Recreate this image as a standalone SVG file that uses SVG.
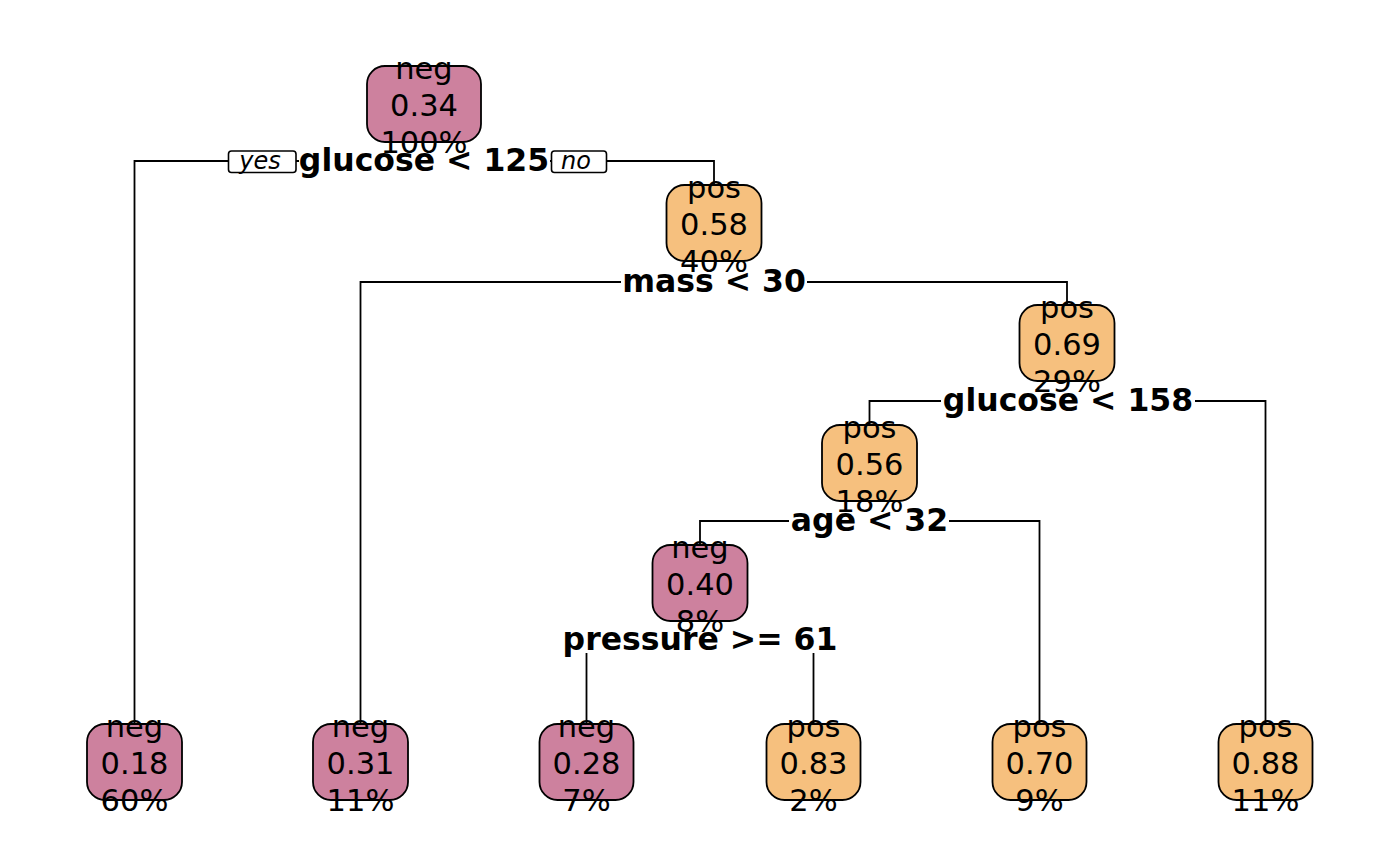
<svg xmlns="http://www.w3.org/2000/svg" width="1400" height="866" viewBox="0 0 1400 866">
<style>
.bg{fill:#ffffff}
.conn{fill:none;stroke:#000;stroke-width:1.8}
.neg{fill:#CD819E;stroke:#000;stroke-width:1.8}
.pos{fill:#F6C07E;stroke:#000;stroke-width:1.8}
.nt{font-family:"DejaVu Sans",sans-serif;font-size:30.5px;text-anchor:middle;fill:#000}
.lab{font-family:"DejaVu Sans",sans-serif;font-size:31.5px;font-weight:bold;text-anchor:middle;fill:#000}
.lbg{fill:#fff;stroke:none}
.yn{fill:#fff;stroke:#000;stroke-width:1.6}
.ynt{font-family:"DejaVu Sans",sans-serif;font-size:24px;font-style:italic;text-anchor:middle;fill:#000}
</style>
<rect class="bg" x="0" y="0" width="1400" height="866"/>
<g id="connectors">
<path class="conn" d="M134.5,724 V161 H714 V185"/>
<path class="conn" d="M360.5,724 V282 H1067 V305"/>
<path class="conn" d="M869.5,425 V401 H1265.5 V724"/>
<path class="conn" d="M700,545 V521 H1039.5 V724"/>
<path class="conn" d="M586.5,724 V640 H813.5 V724"/>
</g>
<g id="split-labels">
<rect class="lbg" x="299" y="149" width="251" height="24"/>
<text class="lab" x="424" y="171">glucose &lt; 125</text>
<rect class="lbg" x="621" y="270" width="186" height="24"/>
<text class="lab" x="714" y="292">mass &lt; 30</text>
<rect class="lbg" x="941" y="389" width="254" height="24"/>
<text class="lab" x="1068" y="411">glucose &lt; 158</text>
<rect class="lbg" x="789" y="509" width="160" height="24"/>
<text class="lab" x="869.5" y="531">age &lt; 32</text>
<rect class="lbg" x="558" y="627" width="284" height="26"/>
<text class="lab" x="700" y="650">pressure &gt;= 61</text>
</g>
<g id="yes-label">
<rect class="yn" x="228.5" y="151" width="67.5" height="21.5" rx="3"/>
<text class="ynt" x="260" y="169">yes</text>
</g>
<g id="no-label">
<rect class="yn" x="551.5" y="151" width="55" height="21.5" rx="3"/>
<text class="ynt" x="576" y="169">no</text>
</g>
<g id="node1">
<rect class="neg" x="367" y="66" width="114" height="76" rx="18"/>
<text class="nt" x="424" y="79">neg</text>
<text class="nt" x="424" y="116">0.34</text>
<text class="nt" x="424" y="153">100%</text>
</g>
<g id="node2">
<rect class="pos" x="666.5" y="185" width="95" height="76" rx="18"/>
<text class="nt" x="714" y="198">pos</text>
<text class="nt" x="714" y="235">0.58</text>
<text class="nt" x="714" y="272">40%</text>
</g>
<g id="node3">
<rect class="pos" x="1019.5" y="305" width="95" height="76" rx="18"/>
<text class="nt" x="1067" y="318">pos</text>
<text class="nt" x="1067" y="355">0.69</text>
<text class="nt" x="1067" y="392">29%</text>
</g>
<g id="node4">
<rect class="pos" x="822" y="425" width="95" height="76" rx="18"/>
<text class="nt" x="869.5" y="438">pos</text>
<text class="nt" x="869.5" y="475">0.56</text>
<text class="nt" x="869.5" y="512">18%</text>
</g>
<g id="node5">
<rect class="neg" x="652.5" y="545" width="95" height="76" rx="18"/>
<text class="nt" x="700" y="558">neg</text>
<text class="nt" x="700" y="595">0.40</text>
<text class="nt" x="700" y="632">8%</text>
</g>
<g id="leaf1">
<rect class="neg" x="87" y="724" width="95" height="76" rx="18"/>
<text class="nt" x="134.5" y="737">neg</text>
<text class="nt" x="134.5" y="774">0.18</text>
<text class="nt" x="134.5" y="811">60%</text>
</g>
<g id="leaf2">
<rect class="neg" x="313" y="724" width="95" height="76" rx="18"/>
<text class="nt" x="360.5" y="737">neg</text>
<text class="nt" x="360.5" y="774">0.31</text>
<text class="nt" x="360.5" y="811">11%</text>
</g>
<g id="leaf3">
<rect class="neg" x="539.5" y="724" width="94" height="76" rx="18"/>
<text class="nt" x="586.5" y="737">neg</text>
<text class="nt" x="586.5" y="774">0.28</text>
<text class="nt" x="586.5" y="811">7%</text>
</g>
<g id="leaf4">
<rect class="pos" x="766.5" y="724" width="94" height="76" rx="18"/>
<text class="nt" x="813.5" y="737">pos</text>
<text class="nt" x="813.5" y="774">0.83</text>
<text class="nt" x="813.5" y="811">2%</text>
</g>
<g id="leaf5">
<rect class="pos" x="992.5" y="724" width="94" height="76" rx="18"/>
<text class="nt" x="1039.5" y="737">pos</text>
<text class="nt" x="1039.5" y="774">0.70</text>
<text class="nt" x="1039.5" y="811">9%</text>
</g>
<g id="leaf6">
<rect class="pos" x="1218.5" y="724" width="94" height="76" rx="18"/>
<text class="nt" x="1265.5" y="737">pos</text>
<text class="nt" x="1265.5" y="774">0.88</text>
<text class="nt" x="1265.5" y="811">11%</text>
</g>
</svg>
